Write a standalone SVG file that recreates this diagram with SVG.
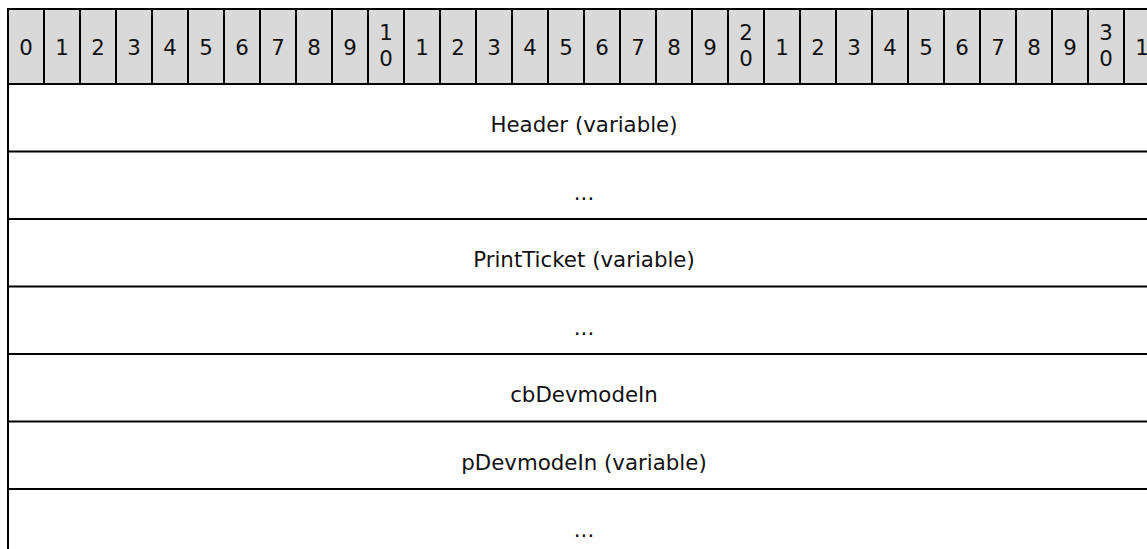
<svg xmlns="http://www.w3.org/2000/svg" width="1147" height="549" viewBox="0 0 1147 549">
<style>
text{font-family:Verdana,"DejaVu Sans",sans-serif;font-size:21.33px;fill:#111;text-anchor:middle}
.hdr{fill:#d9d9d9;stroke:#000;stroke-width:2}
.ln{stroke:#000;stroke-width:2;fill:none}
</style>
<rect width="1147" height="549" fill="#fff"/>
<g id="bit-header">
<rect class="hdr" x="8" y="9" width="1152" height="75"/>
<path class="ln" d="M44 9V84M80 9V84M116 9V84M152 9V84M188 9V84M224 9V84M260 9V84M296 9V84M332 9V84M368 9V84M404 9V84M440 9V84M476 9V84M512 9V84M548 9V84M584 9V84M620 9V84M656 9V84M692 9V84M728 9V84M764 9V84M800 9V84M836 9V84M872 9V84M908 9V84M944 9V84M980 9V84M1016 9V84M1052 9V84M1088 9V84M1124 9V84"/>
<text x="26" y="55">0</text><text x="62" y="55">1</text><text x="98" y="55">2</text><text x="134" y="55">3</text><text x="170" y="55">4</text><text x="206" y="55">5</text><text x="242" y="55">6</text><text x="278" y="55">7</text><text x="314" y="55">8</text><text x="350" y="55">9</text>
<text x="386" y="40">1</text><text x="386" y="66">0</text>
<text x="422" y="55">1</text><text x="458" y="55">2</text><text x="494" y="55">3</text><text x="530" y="55">4</text><text x="566" y="55">5</text><text x="602" y="55">6</text><text x="638" y="55">7</text><text x="674" y="55">8</text><text x="710" y="55">9</text>
<text x="746" y="40">2</text><text x="746" y="66">0</text>
<text x="782" y="55">1</text><text x="818" y="55">2</text><text x="854" y="55">3</text><text x="890" y="55">4</text><text x="926" y="55">5</text><text x="962" y="55">6</text><text x="998" y="55">7</text><text x="1034" y="55">8</text><text x="1070" y="55">9</text>
<text x="1106" y="40">3</text><text x="1106" y="66">0</text>
<text x="1142" y="55">1</text>
</g>
<g id="frame">
<path class="ln" d="M8 84V549"/>
</g>
<g id="field-header">
<text x="584" y="132">Header (variable)</text>
<path class="ln" d="M8 151.5H1160"/>
</g>
<g id="field-header-cont">
<text x="584" y="199.5">...</text>
<path class="ln" d="M8 219H1160"/>
</g>
<g id="field-printticket">
<text x="584" y="267">PrintTicket (variable)</text>
<path class="ln" d="M8 286.5H1160"/>
</g>
<g id="field-printticket-cont">
<text x="584" y="334.5">...</text>
<path class="ln" d="M8 354H1160"/>
</g>
<g id="field-cbdevmodein">
<text x="584" y="402">cbDevmodeIn</text>
<path class="ln" d="M8 421.5H1160"/>
</g>
<g id="field-pdevmodein">
<text x="584" y="469.5">pDevmodeIn (variable)</text>
<path class="ln" d="M8 489H1160"/>
</g>
<g id="field-pdevmodein-cont">
<text x="584" y="537">...</text>
</g>
</svg>
